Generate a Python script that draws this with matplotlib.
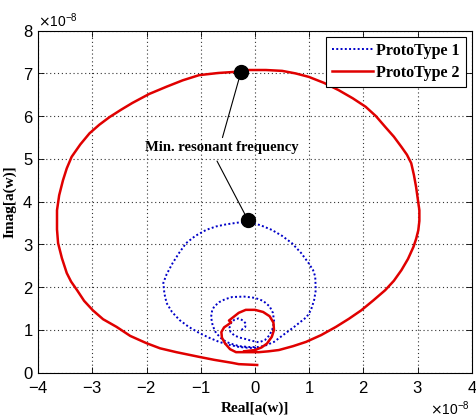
import matplotlib
matplotlib.use('Agg')
import matplotlib.pyplot as plt
from matplotlib.ticker import ScalarFormatter

# values in units of 1e-8
proto2_re = [0.04, -0.3, -0.42, -0.75, -1.03, -1.45, -1.75, -2.0, -2.3, -2.55, -2.8, -2.99,
             -3.15, -3.28, -3.39, -3.47, -3.56, -3.63, -3.65, -3.65, -3.65, -3.61, -3.54,
             -3.47, -3.38, -3.22, -3.05, -2.87, -2.68, -2.47, -2.26, -1.95, -1.63, -1.33,
             -1.03, -0.68, -0.33, -0.11, 0.2, 0.5, 0.75, 0.99, 1.27, 1.54, 1.8, 2.04, 2.23,
             2.4, 2.56, 2.7, 2.8, 2.88, 2.93, 2.97, 3.0, 3.03, 3.03, 3.01, 2.97, 2.92, 2.82,
             2.7, 2.56, 2.4, 2.18, 1.96, 1.73, 1.49, 1.22, 0.94, 0.7, 0.44, 0.25, 0.07,
             -0.15, -0.35, -0.46, -0.55, -0.61, -0.62, -0.57, -0.5, -0.44, -0.48, -0.4,
             -0.3, -0.17, 0.0, 0.15, 0.27, 0.34, 0.35, 0.31, 0.22, 0.12, 0.0, -0.2]
proto2_im = [0.18, 0.2, 0.23, 0.3, 0.37, 0.48, 0.57, 0.69, 0.86, 1.07, 1.25, 1.46,
             1.68, 1.93, 2.13, 2.33, 2.68, 3.03, 3.35, 3.64, 3.8, 4.15, 4.5,
             4.78, 5.05, 5.34, 5.6, 5.8, 5.98, 6.15, 6.31, 6.52, 6.69, 6.84,
             6.96, 7.01, 7.04, 7.08, 7.08, 7.06, 7.0, 6.92, 6.78, 6.61, 6.42, 6.22, 6.0,
             5.75, 5.52, 5.28, 5.1, 4.9, 4.62, 4.34, 4.07, 3.8, 3.55, 3.33, 3.13, 2.94, 2.66,
             2.4, 2.15, 1.93, 1.69, 1.46, 1.26, 1.07, 0.88, 0.72, 0.62, 0.53, 0.5, 0.48,
             0.48, 0.48, 0.55, 0.68, 0.82, 0.95, 1.06, 1.12, 1.18, 1.22, 1.3,
             1.4, 1.47, 1.47, 1.42, 1.32, 1.17, 1.0, 0.84, 0.68, 0.59, 0.53, 0.5]

proto1_re = [-0.25, -0.18, -0.17, -0.22, -0.3, -0.38, -0.45, -0.47, -0.45, -0.38, -0.28,
             -0.18, -0.1, 0.07, 0.18, 0.27, 0.33, 0.35, 0.33, 0.27, 0.15, 0.0, -0.2,
             -0.42, -0.55, -0.66, -0.75, -0.79, -0.81, -0.78, -0.72, -0.62, -0.53, -0.4,
             -0.29, -0.1, 0.07, 0.2, 0.35, 0.57, 0.7, 0.81, 0.95, 1.03, 1.09, 1.12, 1.11,
             1.07, 0.99, 0.85, 0.68, 0.5, 0.31, 0.1, -0.11, -0.32, -0.53, -0.72, -0.9,
             -1.1, -1.27, -1.4, -1.52, -1.63, -1.69, -1.67, -1.63, -1.53, -1.39, -1.22,
             -1.03, -0.85, -0.66, -0.47, -0.29, -0.1, 0.07]
proto1_im = [1.0, 1.07, 1.15, 1.22, 1.27, 1.24, 1.15, 1.05, 0.95, 0.87, 0.82,
             0.79, 0.76, 0.71, 0.76, 0.88, 1.05, 1.22, 1.4, 1.55, 1.68, 1.75, 1.78,
             1.77, 1.72, 1.65, 1.55, 1.46, 1.3, 1.1, 0.93, 0.8, 0.72, 0.66,
             0.62, 0.6, 0.6, 0.64, 0.72, 0.93, 1.05, 1.16, 1.3, 1.46, 1.7, 1.93, 2.25,
             2.4, 2.56, 2.8, 3.03, 3.2, 3.34, 3.45, 3.52, 3.51, 3.47, 3.42, 3.34,
             3.2, 3.03, 2.8, 2.56, 2.3, 2.1, 1.85, 1.63, 1.42, 1.23, 1.07,
             0.93, 0.82, 0.72, 0.65, 0.6, 0.58, 0.58]

res_re = [-0.26, -0.13]
res_im = [7.03, 3.57]

scale = 1e-8

fig = plt.figure(figsize=(4.77, 4.18), dpi=100)
ax = fig.add_axes([0.0797, 0.1084, 0.9098, 0.8182])

ax.plot([v * scale for v in proto1_re], [v * scale for v in proto1_im],
        linestyle=(0, (1, 1.2)), color='#0000c8', lw=1.4, label='ProtoType 1')
ax.plot([v * scale for v in proto2_re], [v * scale for v in proto2_im],
        '-', color='#e00000', lw=1.8, label='ProtoType 2')
ax.plot([v * scale for v in res_re], [v * scale for v in res_im],
        'o', color='black', ms=10, zorder=5)

# annotation with two leader lines
txt_x, txt_y = -0.62 * scale, 5.26 * scale
ax.annotate('', xy=(res_re[0] * scale, res_im[0] * scale), xytext=(-0.6 * scale, 5.5 * scale),
            arrowprops=dict(arrowstyle='-', color='black', lw=0.8, shrinkA=0, shrinkB=0))
ax.annotate('', xy=(res_re[1] * scale, res_im[1] * scale), xytext=(-0.7 * scale, 4.95 * scale),
            arrowprops=dict(arrowstyle='-', color='black', lw=0.8, shrinkA=0, shrinkB=0))
ax.text(txt_x, txt_y, 'Min. resonant frequency', ha='center', va='center',
        family='Liberation Serif', fontweight='bold', fontsize=10.5)

ax.set_xlim(-4e-8, 4e-8)
ax.set_ylim(0, 8e-8)
ax.set_xticks([i * scale for i in range(-4, 5)])
ax.set_yticks([i * scale for i in range(0, 9)])
for axis in (ax.xaxis, ax.yaxis):
    fmt = ScalarFormatter(useMathText=True)
    fmt.set_powerlimits((0, 0))
    axis.set_major_formatter(fmt)
ax.tick_params(direction='in', top=True, right=True, labelsize=12, length=4, width=0.6)
ax.tick_params(axis='x', pad=5)
for lab in ax.get_xticklabels() + ax.get_yticklabels():
    lab.set_family('Liberation Sans')
for off in (ax.xaxis.get_offset_text(), ax.yaxis.get_offset_text()):
    off.set_fontsize(10)
    off.set_family('Liberation Sans')
ax.xaxis.get_offset_text().set_x(0.995)
ax.grid(True, linestyle=(0, (1, 2.5)), color='#333333', lw=0.8)
for s in ax.spines.values():
    s.set_linewidth(0.8)

ax.set_xlabel('Real[a(w)]', family='Liberation Serif', fontweight='bold', fontsize=11, labelpad=4)
ax.set_ylabel('Imag[a(w)]', family='Liberation Serif', fontweight='bold', fontsize=11, labelpad=4)

leg = ax.legend(loc='upper right', prop={'family': 'Liberation Serif', 'weight': 'bold', 'size': 11.5},
                fancybox=False, edgecolor='black', framealpha=1, handlelength=2.6,
                borderpad=0.35, labelspacing=0.4, handletextpad=0.2, borderaxespad=0.4)
leg.get_frame().set_linewidth(0.8)

fig.savefig('out.png', dpi=100)
